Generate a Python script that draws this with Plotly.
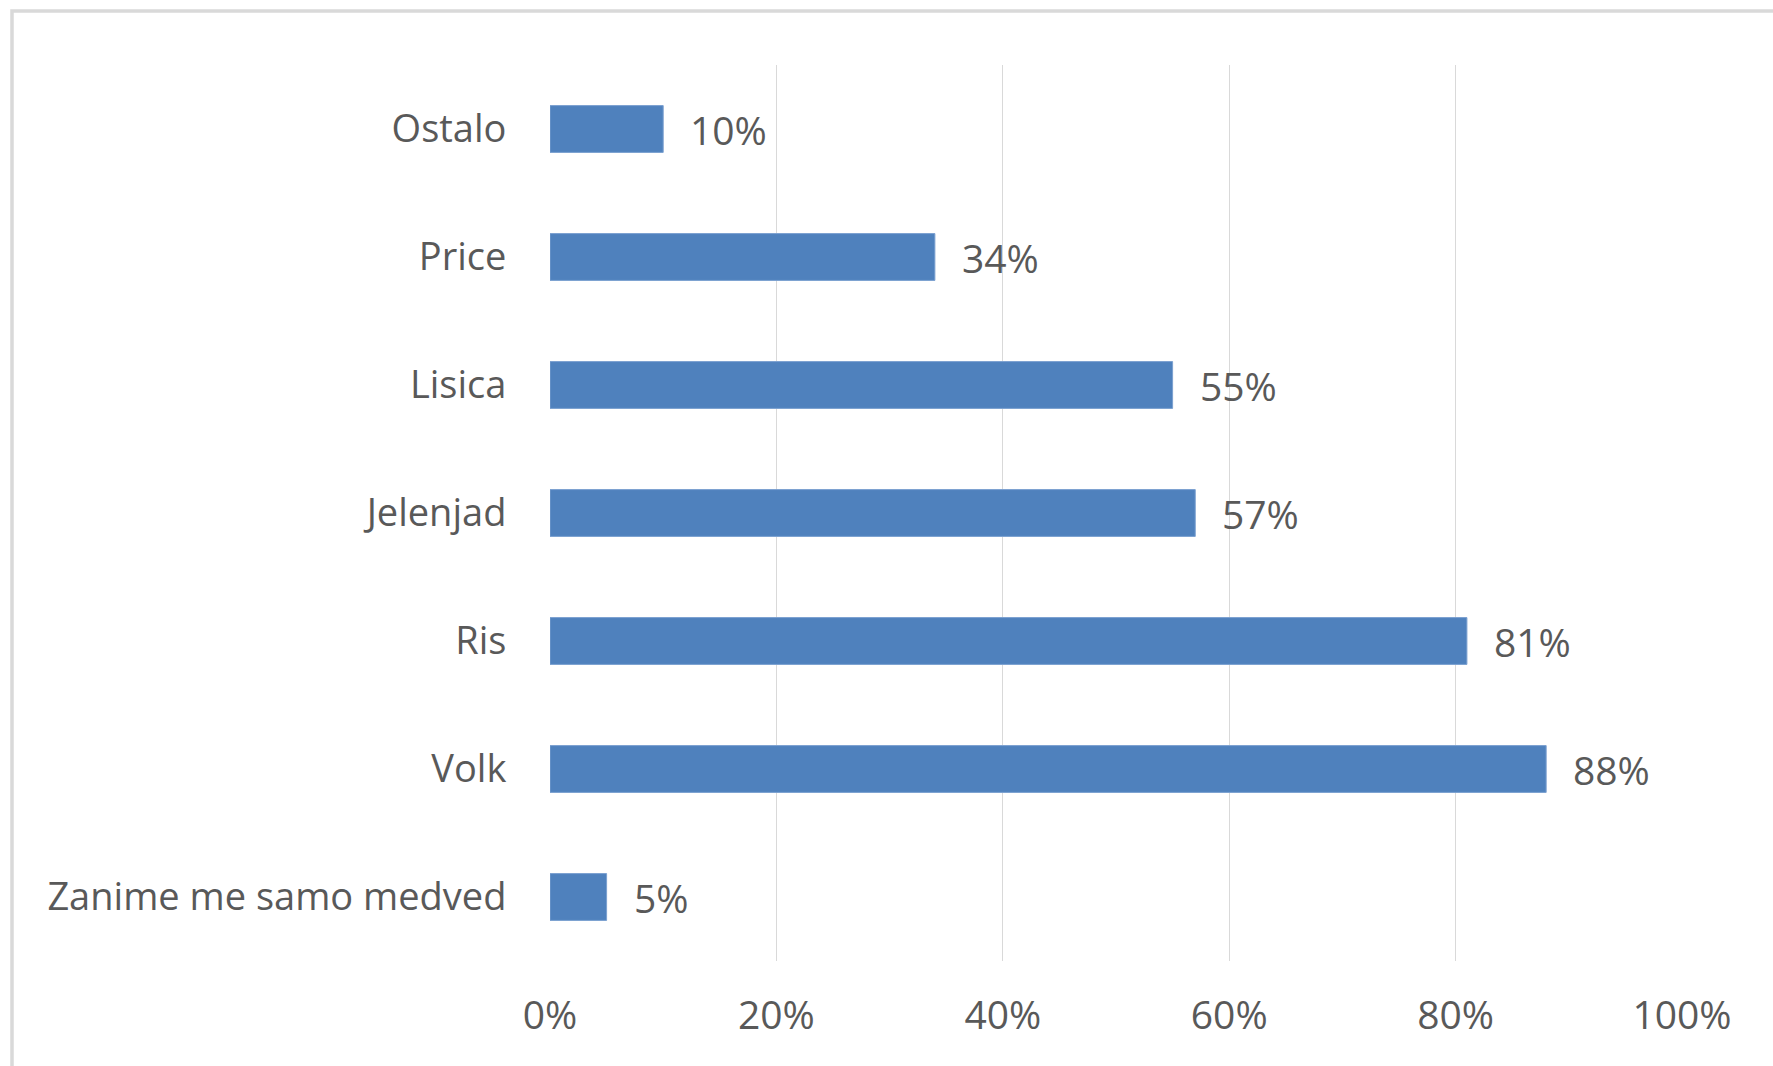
import plotly.graph_objects as go

categories = ["Zanime me samo medved", "Volk", "Ris", "Jelenjad", "Lisica", "Price", "Ostalo"]
values = [0.05, 0.88, 0.81, 0.57, 0.55, 0.34, 0.10]
tick_vals = [0, 0.2, 0.4, 0.6, 0.8, 1.0]
tick_text = ["0%", "20%", "40%", "60%", "80%", "100%"]
labels = [f"{round(v*100)}%" for v in values]

FONT = "Open Sans"
GRAY = "#595959"
W, H = 1773, 1066
L, R, T, B = 550, 91, 65, 105

fig = go.Figure()
fig.add_trace(go.Bar(
    y=categories, x=values, orientation="h",
    marker=dict(color="#4F81BD", line=dict(color="#7ba0d0", width=1)),
    width=0.366, hoverinfo="skip",
))

for c, v, t in zip(categories, values, labels):
    fig.add_annotation(x=v, y=c, text=t, showarrow=False, xanchor="left",
                       xshift=25, yshift=0, font=dict(family=FONT, size=39, color=GRAY))

pw, ph = W - L - R, H - T - B
fig.add_shape(type="rect", xref="paper", yref="paper",
              x0=(12 - L) / pw, x1=(W + 20 - L) / pw,
              y0=-(B + 20) / ph, y1=(H - B - 11) / ph,
              line=dict(color="#d9d9d9", width=3.5), fillcolor="rgba(0,0,0,0)", layer="below")

fig.update_layout(
    width=W, height=H,
    margin=dict(l=L, r=R, t=T, b=B),
    paper_bgcolor="white", plot_bgcolor="white",
    showlegend=False,
    font=dict(family=FONT, size=38, color=GRAY),
    bargap=0.634,
)
fig.update_xaxes(range=[0, 1], tickvals=tick_vals, ticktext=tick_text,
                 showgrid=True, gridcolor="#d9d9d9", gridwidth=1.3,
                 zeroline=False, showline=False,
                 ticks="outside", ticklen=20, tickcolor="rgba(0,0,0,0)",
                 tickfont=dict(family=FONT, size=39, color=GRAY), fixedrange=True)
fig.update_yaxes(categoryorder="array", categoryarray=categories,
                 range=[-0.5, 6.5], showgrid=False, zeroline=False, showline=False,
                 ticks="outside", ticklen=35, tickcolor="rgba(0,0,0,0)",
                 tickfont=dict(family=FONT, size=38, color=GRAY), fixedrange=True)

fig.write_html("out.html", config={"displayModeBar": False},
               post_script="document.body.style.margin='0';document.body.style.overflow='hidden';")
